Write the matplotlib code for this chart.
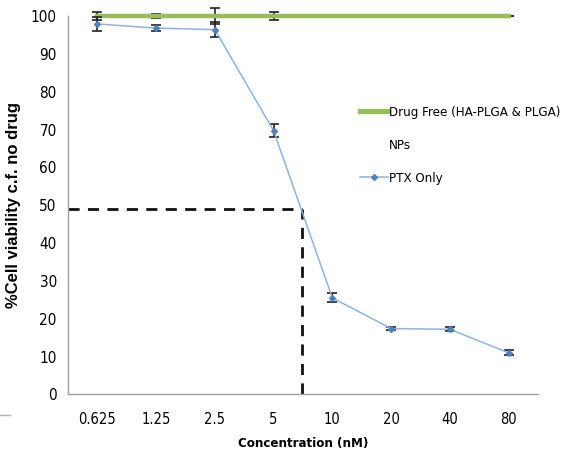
import matplotlib
matplotlib.use("Agg")
import matplotlib.pyplot as plt
from matplotlib.lines import Line2D
import numpy as np

categories = ["0.625", "1.25", "2.5", "5", "10", "20", "40", "80"]
drug_free = [100, 100, 100, 100, 100, 100, 100, 100]
drug_free_err = [1.0, 0.6, 2.0, 1.0, 0.3, 0, 0, 0]
ptx_only = [97.9, 96.8, 96.4, 69.7, 25.5, 17.4, 17.2, 11.0]
ptx_err = [1.8, 0.8, 1.9, 1.7, 1.2, 0.5, 0.5, 0.7]
ic50_level = 49
ic50_pos = 3.48  # position between "5" and "10" on the category axis

plt.rcParams['font.family'] = ['Liberation Sans', 'DejaVu Sans']
fig = plt.figure(figsize=(5.66, 4.57), dpi=100)
ax = fig.add_axes([0.120, 0.137, 0.8305, 0.828])
x = np.arange(len(categories))

green = "#9bbb59"
blue = "#8db3e2"

ax.errorbar(x, ptx_only, yerr=ptx_err, color=blue, lw=1.1, marker='D', ms=3,
            mfc="#4f81bd", mec="#4f81bd", ecolor="#222222", elinewidth=1.2,
            capsize=3.5, capthick=1.2, zorder=3)
ax.errorbar(x, drug_free, yerr=drug_free_err, color=green, lw=3.2,
            ecolor="#222222", elinewidth=1.2, capsize=3.5, capthick=1.2,
            zorder=2, clip_on=False)

ax.plot([-0.5, ic50_pos], [ic50_level, ic50_level], ls=(0, (4, 3)), color="#111111", lw=2)
ax.plot([ic50_pos, ic50_pos], [0, ic50_level], ls=(0, (4, 3)), color="#111111", lw=2)

ax.set_xlim(-0.5, 7.5)
ax.set_ylim(0, 100)
ax.set_yticks(range(0, 101, 10))
ax.set_xticks(x)
ax.set_xticklabels(categories)
for s in ["top", "right"]:
    ax.spines[s].set_visible(False)
for s in ["left", "bottom"]:
    ax.spines[s].set_color("#a0a0a0")
    ax.spines[s].set_linewidth(1.0)
ax.tick_params(length=0, pad=8)
ax.tick_params(axis='y', labelsize=11)
ax.tick_params(axis='x', pad=13, labelsize=10.5)
for lab in ax.get_xticklabels() + ax.get_yticklabels():
    lab.set_family(['DejaVu Sans'])
    lab.set_stretch('condensed')

ax.set_ylabel("%Cell viability c.f. no drug", fontsize=12, fontweight='bold', labelpad=7)
ax.set_xlabel("Concentration (nM)", fontsize=9.5, fontweight='bold', labelpad=7)
ax.xaxis.label.set_family(['DejaVu Sans'])
ax.xaxis.label.set_stretch('condensed')

handles = [Line2D([], [], color=green, lw=3.8),
           Line2D([], [], color='none', lw=0),
           Line2D([], [], color=blue, lw=1.1, marker='D', ms=3, mfc="#4f81bd", mec="#4f81bd")]
leg = ax.legend(handles, ["Drug Free (HA-PLGA & PLGA)", "NPs", "PTX Only"], loc='upper left',
                bbox_to_anchor=(0.621, 0.762), frameon=False, fontsize=9.5, handlelength=2.1,
                handletextpad=0.1, labelspacing=1.5, borderaxespad=0, borderpad=0)
for t in leg.get_texts():
    t.set_family(['DejaVu Sans'])
    t.set_stretch('condensed')

fig.lines.append(Line2D([0, 0.018], [0.092, 0.092], transform=fig.transFigure, color="#b0b0b0", lw=1))

fig.savefig("out.png", dpi=100)
